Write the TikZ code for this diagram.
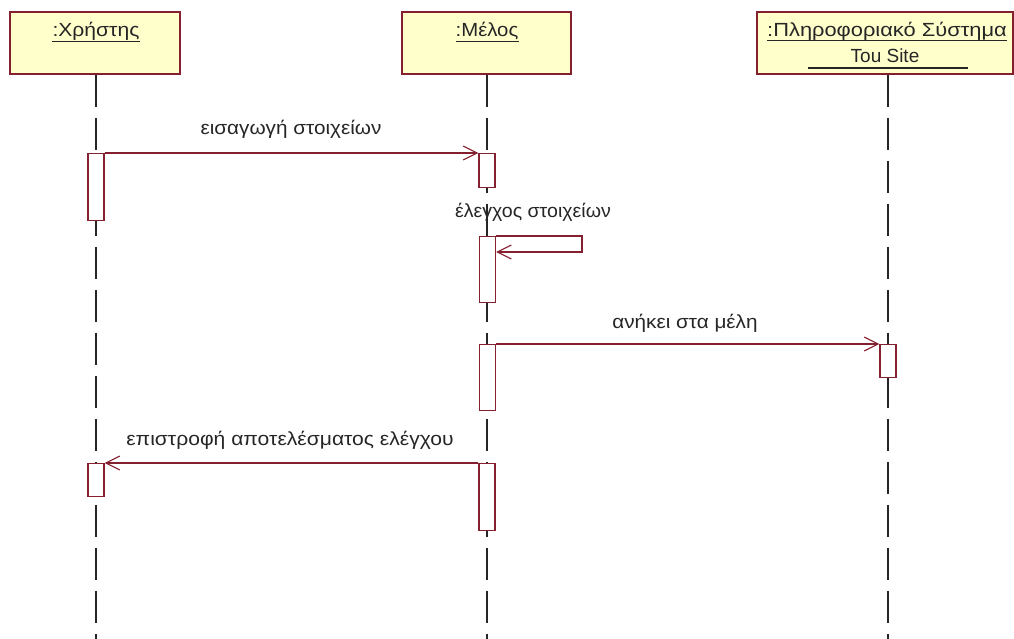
\documentclass[tikz,border=0pt]{standalone}
\usepackage{graphicx}
\usepackage{fontspec}
\setmainfont{Liberation Sans}
\usetikzlibrary{arrows.meta}

\definecolor{objfill}{HTML}{FFFFCC}
\definecolor{umlred}{HTML}{852030}
\definecolor{inkgray}{HTML}{262626}

% horizontally widened text
\newcommand{\widetxt}[2]{\scalebox{#1}[1]{#2}}

\tikzset{
  objbox/.style={draw=umlred, fill=objfill, line width=1.3pt, minimum height=62pt, inner sep=0pt},
  objtitle/.style={font=\fontsize{19}{21}\selectfont, text=inkgray, inner sep=0pt},
  uline/.style={draw=inkgray, line width=1.1pt},
  lifeline/.style={draw=inkgray, line width=1.5pt, dash pattern=on 32pt off 11pt},
  actbox/.style={draw=umlred, fill=white, line width=1.2pt, minimum width=16pt, inner sep=0pt, anchor=north},
  msg/.style={draw=umlred, line width=1.2pt, -{Straight Barb[length=14pt, width=14pt, line width=1.1pt]}},
  msglabel/.style={font=\fontsize{19}{21}\selectfont, text=inkgray, inner sep=0pt, anchor=base}
}

\begin{document}
\begin{tikzpicture}[x=1pt, y=-1pt]
\useasboundingbox (0,0) rectangle (1014,639);

% object boxes
\node[objbox, minimum width=170pt] (user) at (95,43) {};
\node[objbox, minimum width=169pt] (member) at (486.5,43) {};
\node[objbox, minimum width=256pt] (system) at (885,43) {};

% object names, underlined
\node[objtitle, anchor=base] (tuser) at (96,37) {\widetxt{1.11}{:Χρήστης}};
\draw[uline] ([yshift=-4.5pt]tuser.base west) -- ([yshift=-4.5pt]tuser.base east);
\node[objtitle, anchor=base] (tmember) at (487,37) {\widetxt{1.07}{:Μέλος}};
\draw[uline] ([yshift=-4.5pt]tmember.base west) -- ([yshift=-4.5pt]tmember.base east);
\node[objtitle, anchor=base] (tsystem) at (887,37) {\widetxt{1.15}{:Πληροφοριακό Σύστημα}};
\draw[uline] ([yshift=-3.5pt]tsystem.base west) -- ([yshift=-3.5pt]tsystem.base east);
\node[objtitle, anchor=base] (tsite) at (885,63) {Tou Site};
\coordinate (siteL) at (808,68);
\coordinate (siteR) at (968,68);
\draw[uline] (siteL) -- (siteR);

% lifelines
\coordinate (userEnd) at (96,660);
\coordinate (memberEnd) at (487,660);
\coordinate (systemEnd) at (888,660);
\draw[lifeline] (user.south -| userEnd) -- (userEnd);
\draw[lifeline] (member.south -| memberEnd) -- (memberEnd);
\draw[lifeline] (system.south -| systemEnd) -- (systemEnd);

% activation bars
\node[actbox, minimum height=67pt] (a1) at (96,153) {};
\node[actbox, minimum height=34pt] (a2) at (487,153) {};
\node[actbox, minimum height=66pt] (a3) at (487.5,236) {};
\node[actbox, minimum height=66pt] (a4) at (487.5,344) {};
\node[actbox, minimum height=33pt] (a5) at (888,344) {};
\node[actbox, minimum height=67pt] (a6) at (487,463) {};
\node[actbox, minimum height=33pt] (a7) at (96,463) {};

% messages
\draw[msg] (a1.north east) -- (a2.north west);
\node[msglabel] (l1) at (291,135) {\widetxt{1.09}{εισαγωγή στοιχείων}};

\coordinate (selfA) at (582,236);
\coordinate (selfB) at (582,252);
\draw[msg] (a3.north east) -- (selfA) -- (selfB) -- (a3.east |- selfB);
\node[msglabel] (l2) at (533,217) {\widetxt{1.03}{έλεγχος στοιχείων}};

\draw[msg] (a4.north east) -- (a5.north west);
\node[msglabel] (l3) at (685,328) {\widetxt{1.09}{ανήκει στα μέλη}};

\draw[msg] (a6.north west) -- (a7.north east);
\node[msglabel] (l4) at (290,445) {\widetxt{1.11}{επιστροφή αποτελέσματος ελέγχου}};
\end{tikzpicture}
\end{document}
